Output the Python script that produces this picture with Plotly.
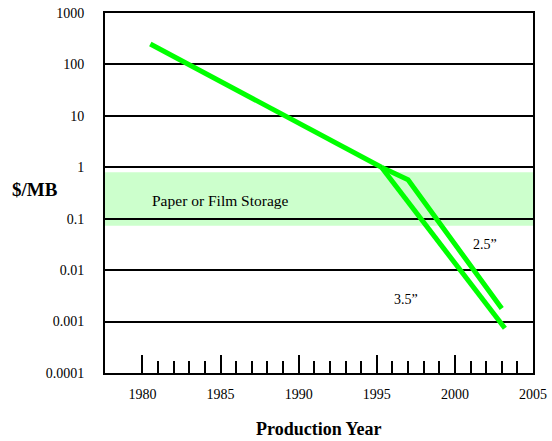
import math
import plotly.graph_objects as go

# ---- data ----
years_main = [1980.5, 1995.3]
cost_main = [250, 1.0]

years_25 = [1995.3, 1997.0, 2003.0]
cost_25 = [1.0, 0.57, 0.0018]

years_35 = [1995.3, 2003.2]
cost_35 = [1.0, 0.00074]

paper_band = [0.073, 0.80]

x_tick_vals = [1980, 1985, 1990, 1995, 2000, 2005]
x_tick_labels = ["1980", "1985", "1990", "1995", "2000", "2005"]
x_minor_vals = list(range(1980, 2005))

y_tick_vals = [1000, 100, 10, 1, 0.1, 0.01, 0.001, 0.0001]
y_tick_labels = ["1000", "100", "10", "1", "0.1", "0.01", "0.001", "0.0001"]

FONT = "Liberation Serif"
GREEN = "#00ff00"

fig = go.Figure()
line_style = dict(color=GREEN, width=5)
fig.add_trace(go.Scatter(x=years_main, y=cost_main, mode="lines", line=line_style, showlegend=False))
fig.add_trace(go.Scatter(x=years_25, y=cost_25, mode="lines", line=line_style, showlegend=False))
fig.add_trace(go.Scatter(x=years_35, y=cost_35, mode="lines", line=line_style, showlegend=False))

fig.add_shape(type="rect", xref="paper", yref="y", x0=0, x1=1,
              y0=paper_band[0], y1=paper_band[1],
              fillcolor="#ccffcc", line=dict(width=0), layer="below")

# annotation y positions on a log axis are given in log10 units
fig.add_annotation(x=1980.5, y=math.log10(0.23), text="Paper or Film Storage", showarrow=False,
                   xanchor="left", font=dict(family=FONT, size=15.5, color="black"))
fig.add_annotation(x=2001.95, y=math.log10(0.032), text="2.5\u201d", showarrow=False,
                   font=dict(family=FONT, size=14, color="black"))
fig.add_annotation(x=1996.85, y=math.log10(0.0027), text="3.5\u201d", showarrow=False,
                   font=dict(family=FONT, size=14, color="black"))
fig.add_annotation(xref="paper", yref="paper", x=-0.164, y=0.51, text="<b>$/MB</b>",
                   showarrow=False, xanchor="center",
                   font=dict(family=FONT, size=19, color="black"))
fig.add_annotation(xref="paper", yref="paper", x=0.5, y=-0.155, text="<b>Production Year</b>",
                   showarrow=False, yanchor="middle",
                   font=dict(family=FONT, size=18, color="black"))

fig.update_layout(
    width=552, height=441,
    margin=dict(l=105, r=19, t=13, b=68, autoexpand=False),
    paper_bgcolor="white", plot_bgcolor="white",
    font=dict(family=FONT, size=14, color="black"),
    showlegend=False,
)
fig.update_xaxes(
    range=[1977.6, 2005], showgrid=False, zeroline=False, automargin=False,
    showline=True, linecolor="black", linewidth=2, mirror=True,
    tickmode="array", tickvals=x_tick_vals, ticktext=x_tick_labels,
    ticks="inside", ticklen=18, tickwidth=2, tickcolor="black",
    ticklabelstandoff=7,
    minor=dict(tickmode="array", tickvals=x_minor_vals, ticks="inside",
               ticklen=12, tickwidth=2, tickcolor="black", showgrid=False),
    tickfont=dict(family=FONT, size=14, color="black"),
)
fig.update_yaxes(
    type="log", range=[-4, 3], showgrid=True, gridcolor="black", gridwidth=1.5,
    zeroline=False, showline=True, linecolor="black", linewidth=2, mirror=True,
    automargin=False,
    tickmode="array", tickvals=y_tick_vals, ticktext=y_tick_labels,
    ticks="", ticklabelstandoff=16,
    tickfont=dict(family=FONT, size=14, color="black"),
)

fig.write_html("out.html", config={"displayModeBar": False},
               post_script="document.body.style.margin='0';")
